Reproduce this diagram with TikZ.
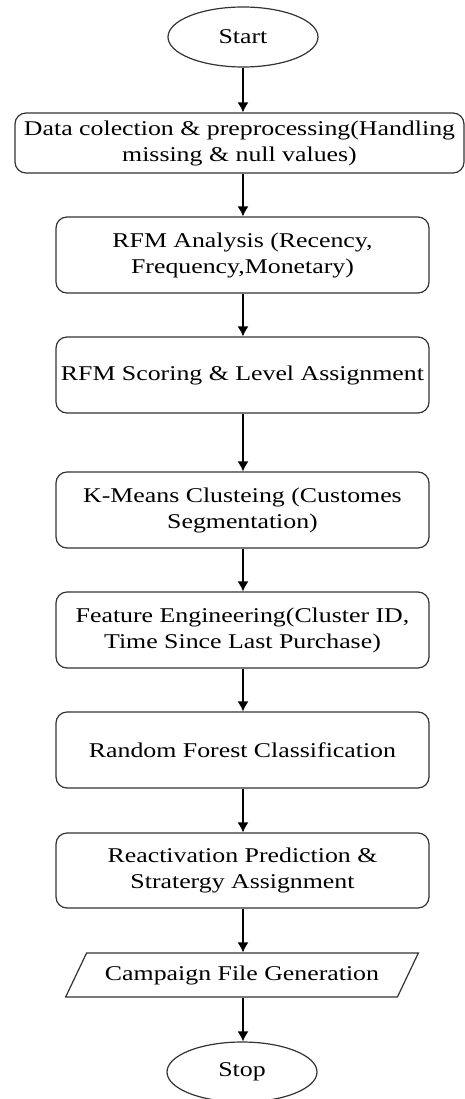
\documentclass[tikz,border=0pt]{standalone}
\usepackage{fontspec}
\setmainfont[FakeStretch=1.23]{Liberation Serif}
\usetikzlibrary{shapes.geometric,arrows.meta}

\begin{document}
\begin{tikzpicture}[x=1pt,y=1pt,
   every node/.style={font=\fontsize{21}{26}\selectfont,align=center,inner sep=2pt},
   term/.style={ellipse,draw=black!80,line width=1.2pt,minimum width=150pt,minimum height=60pt},
   proc/.style={rectangle,rounded corners=11pt,draw=black!80,line width=1.2pt,minimum width=373pt,minimum height=76pt},
   io/.style={trapezium,trapezium left angle=51,trapezium right angle=129,trapezium stretches=true,draw=black!80,line width=1.2pt,minimum width=354pt,minimum height=44pt},
   flow/.style={-{Latex[length=10pt,width=11pt]},line width=1.4pt}]
\useasboundingbox (0,0) rectangle (465,-1099);
\node[term] (start) at (243,-37) {Start};
\node[proc,minimum width=449pt,minimum height=60pt] (prep) at (239.5,-143) {Data colection \& preprocessing(Handling\\missing \& null values)};
\node[proc] (rfm) at (242.5,-255) {RFM Analysis (Recency,\\Frequency,Monetary)};
\node[proc] (score) at (242.5,-375) {RFM Scoring \& Level Assignment};
\node[proc] (kmeans) at (242.5,-510) {K-Means Clusteing (Customes\\Segmentation)};
\node[proc] (feat) at (242.5,-630) {Feature Engineering(Cluster ID,\\Time Since Last Purchase)};
\node[proc] (rf) at (242.5,-750) {Random Forest Classification};
\node[proc,minimum height=75pt] (react) at (242.5,-870.5) {Reactivation Prediction \&\\Stratergy Assignment};
\node[io] (camp) at (242,-975) {Campaign File Generation};
\node[term] (stop) at (242,-1072) {Stop};
% arrows, all on the axis of the start node
\foreach \a/\b in %
{start/prep,prep/rfm,rfm/score,score/kmeans,kmeans/feat,feat/rf,rf/react,react/camp,camp/stop} {
   \draw[flow] (\a.south -| start.center) -- (\b.north -| start.center);
}
\end{tikzpicture}
\end{document}
